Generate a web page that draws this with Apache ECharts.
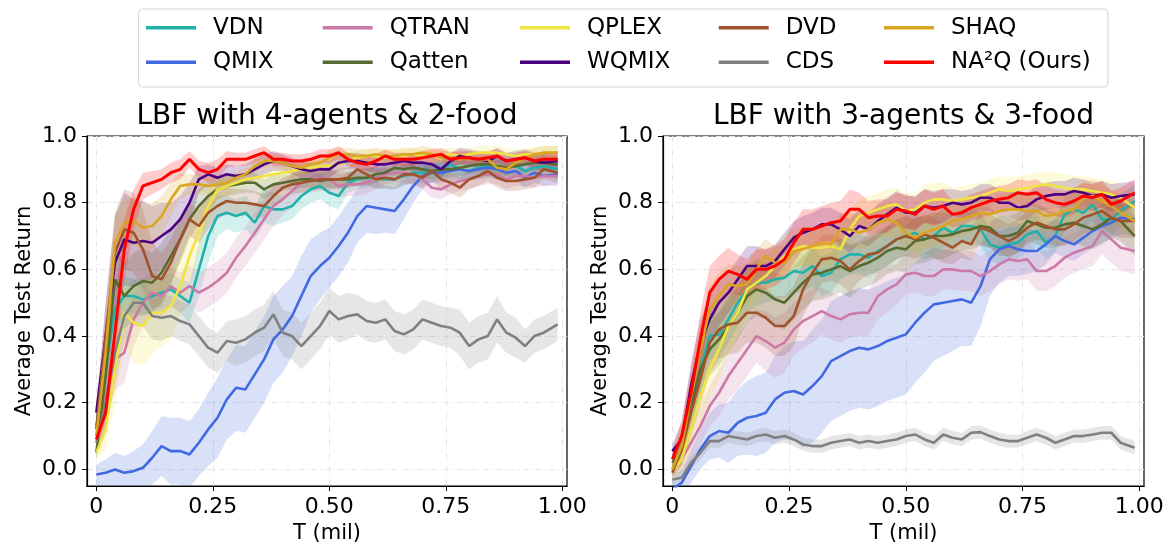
<!DOCTYPE html>
<html>
<head>
<meta charset="utf-8">
<script src="https://cdn.jsdelivr.net/npm/echarts@6/dist/echarts.min.js"></script>
<style>
  html, body { margin: 0; padding: 0; background: #fff; }
  #chart { width: 1169px; height: 549px; }
</style>
</head>
<body>
<div id="chart"></div>
<script>
// Training steps (millions) at which the test return was logged
const T = [0,0.02,0.04,0.06,0.08,0.1,0.12,0.14,0.16,0.18,
           0.2,0.22,0.24,0.26,0.28,0.3,0.32,0.34,0.36,0.38,
           0.4,0.42,0.44,0.46,0.48,0.5,0.52,0.54,0.56,0.58,
           0.6,0.62,0.64,0.66,0.68,0.7,0.72,0.74,0.76,0.78,
           0.8,0.82,0.84,0.86,0.88,0.9,0.92,0.94,0.96,0.99];

const methods = ['VDN','QMIX','QTRAN','Qatten','QPLEX','WQMIX','DVD','CDS','SHAQ','NA²Q (Ours)'];
const panelTitles = ['LBF with 4-agents & 2-food', 'LBF with 3-agents & 3-food'];

const xTicks = [0, 0.25, 0.5, 0.75, 1.0];
const xTickLabels = ['0', '0.25', '0.50', '0.75', '1.00'];
const yTicks = [0, 0.2, 0.4, 0.6, 0.8, 1.0];
const yTickLabels = ['0.0', '0.2', '0.4', '0.6', '0.8', '1.0'];

// ---- LBF 4 agents, 2 food: mean return ----
const vdnL = [0.13,0.30,0.48,0.52,0.52,0.51,0.52,0.53,0.54,0.52,
  0.50,0.60,0.70,0.76,0.77,0.76,0.77,0.74,0.79,0.78,
  0.78,0.79,0.82,0.84,0.85,0.83,0.82,0.86,0.87,0.875,
  0.875,0.87,0.87,0.88,0.89,0.89,0.89,0.90,0.915,0.90,
  0.895,0.905,0.91,0.90,0.905,0.91,0.895,0.905,0.91,0.90];
const qmixL = [-0.015,-0.01,0.0,-0.01,-0.005,0.005,0.035,0.07,0.055,0.055,
  0.045,0.08,0.12,0.155,0.21,0.245,0.24,0.285,0.33,0.39,
  0.42,0.46,0.52,0.58,0.61,0.635,0.67,0.71,0.76,0.79,
  0.785,0.78,0.775,0.81,0.85,0.88,0.89,0.89,0.895,0.90,
  0.895,0.90,0.905,0.90,0.89,0.895,0.875,0.89,0.88,0.885];
const qtranL = [0.10,0.22,0.33,0.35,0.45,0.50,0.53,0.52,0.55,0.53,
  0.55,0.53,0.545,0.565,0.59,0.635,0.67,0.71,0.75,0.79,
  0.81,0.835,0.86,0.87,0.875,0.87,0.85,0.855,0.855,0.86,
  0.875,0.885,0.89,0.89,0.885,0.87,0.845,0.84,0.855,0.865,
  0.87,0.88,0.885,0.885,0.87,0.88,0.88,0.875,0.88,0.88];
const qattenL = [0.05,0.28,0.57,0.52,0.55,0.565,0.56,0.59,0.64,0.69,
  0.75,0.79,0.82,0.84,0.85,0.855,0.86,0.86,0.84,0.855,
  0.86,0.865,0.87,0.87,0.865,0.87,0.87,0.87,0.875,0.875,
  0.885,0.89,0.905,0.90,0.905,0.90,0.895,0.90,0.90,0.905,
  0.91,0.915,0.915,0.91,0.905,0.91,0.915,0.92,0.92,0.915];
const qplexL = [0.05,0.12,0.30,0.47,0.44,0.43,0.47,0.47,0.49,0.55,
  0.64,0.71,0.79,0.84,0.85,0.86,0.87,0.875,0.88,0.885,
  0.89,0.895,0.90,0.905,0.91,0.91,0.915,0.925,0.935,0.94,
  0.94,0.935,0.94,0.94,0.945,0.94,0.94,0.94,0.945,0.94,
  0.945,0.95,0.95,0.95,0.945,0.94,0.945,0.945,0.95,0.95];
const wqmixL = [0.17,0.40,0.62,0.69,0.68,0.685,0.68,0.70,0.72,0.75,
  0.80,0.87,0.885,0.875,0.885,0.88,0.885,0.90,0.915,0.925,
  0.92,0.91,0.90,0.895,0.90,0.90,0.92,0.925,0.925,0.92,
  0.915,0.915,0.92,0.925,0.92,0.92,0.915,0.90,0.925,0.94,
  0.935,0.93,0.925,0.94,0.925,0.93,0.935,0.925,0.92,0.925];
const dvdL = [0.12,0.40,0.65,0.72,0.71,0.66,0.58,0.57,0.62,0.69,
  0.75,0.73,0.77,0.79,0.805,0.80,0.80,0.795,0.79,0.82,
  0.845,0.855,0.86,0.865,0.87,0.87,0.87,0.875,0.90,0.885,
  0.87,0.875,0.87,0.885,0.885,0.875,0.895,0.87,0.86,0.845,
  0.87,0.88,0.895,0.875,0.865,0.865,0.87,0.875,0.90,0.89];
const cdsL = [0.08,0.20,0.35,0.46,0.50,0.50,0.46,0.455,0.46,0.445,
  0.435,0.40,0.365,0.35,0.385,0.38,0.39,0.41,0.425,0.465,
  0.41,0.40,0.37,0.40,0.43,0.475,0.45,0.46,0.465,0.445,
  0.44,0.45,0.415,0.405,0.42,0.45,0.44,0.43,0.425,0.41,
  0.37,0.39,0.40,0.45,0.41,0.395,0.37,0.40,0.41,0.435];
const shaqL = [0.10,0.35,0.68,0.74,0.745,0.725,0.73,0.76,0.81,0.85,
  0.855,0.855,0.85,0.855,0.86,0.875,0.885,0.91,0.925,0.925,
  0.92,0.91,0.905,0.915,0.92,0.935,0.945,0.945,0.94,0.94,
  0.945,0.94,0.94,0.945,0.945,0.95,0.945,0.935,0.935,0.93,
  0.935,0.93,0.93,0.905,0.90,0.92,0.935,0.945,0.95,0.95];
const na2qL = [0.09,0.17,0.41,0.66,0.78,0.85,0.86,0.87,0.89,0.90,
  0.93,0.90,0.89,0.90,0.93,0.93,0.93,0.94,0.95,0.93,
  0.93,0.925,0.925,0.93,0.94,0.94,0.95,0.93,0.92,0.915,
  0.925,0.94,0.93,0.93,0.93,0.935,0.94,0.945,0.93,0.935,
  0.935,0.93,0.935,0.94,0.925,0.93,0.935,0.925,0.93,0.93];

// ---- LBF 4 agents, 2 food: spread (half-width of shaded band) ----
const vdnLsd = [0.04,0.08,0.08,0.06,0.05,0.05,0.05,0.05,0.05,0.05,
  0.06,0.08,0.08,0.06,0.05,0.05,0.05,0.05,0.05,0.05,
  0.04,0.04,0.04,0.04,0.04,0.04,0.04,0.03,0.03,0.03,
  0.03,0.03,0.03,0.03,0.03,0.03,0.03,0.03,0.03,0.03,
  0.03,0.03,0.03,0.03,0.03,0.03,0.03,0.03,0.03,0.03];
const qmixLsd = [0.03,0.04,0.05,0.05,0.06,0.07,0.08,0.09,0.10,0.10,
  0.10,0.10,0.11,0.12,0.12,0.13,0.13,0.13,0.13,0.13,
  0.13,0.12,0.12,0.11,0.10,0.09,0.09,0.09,0.08,0.08,
  0.08,0.07,0.07,0.06,0.05,0.04,0.03,0.03,0.03,0.03,
  0.03,0.03,0.03,0.03,0.03,0.03,0.03,0.03,0.03,0.03];
const qtranLsd = [0.03,0.08,0.09,0.09,0.08,0.07,0.06,0.06,0.06,0.06,
  0.06,0.06,0.06,0.06,0.06,0.06,0.06,0.06,0.06,0.06,
  0.05,0.05,0.04,0.04,0.04,0.035,0.035,0.035,0.035,0.035,
  0.035,0.03,0.03,0.03,0.03,0.03,0.03,0.03,0.03,0.03,
  0.03,0.03,0.03,0.03,0.03,0.03,0.03,0.03,0.03,0.03];
const qattenLsd = [0.02,0.08,0.10,0.10,0.10,0.10,0.09,0.09,0.08,0.07,
  0.06,0.05,0.04,0.03,0.03,0.03,0.03,0.03,0.03,0.03,
  0.025,0.025,0.025,0.025,0.025,0.025,0.025,0.025,0.025,0.025,
  0.025,0.025,0.025,0.025,0.025,0.025,0.025,0.025,0.025,0.025,
  0.025,0.025,0.025,0.025,0.025,0.025,0.025,0.025,0.025,0.025];
const qplexLsd = [0.02,0.06,0.10,0.10,0.12,0.12,0.12,0.10,0.10,0.09,
  0.08,0.07,0.05,0.03,0.03,0.02,0.02,0.02,0.02,0.02,
  0.02,0.02,0.02,0.02,0.02,0.02,0.02,0.02,0.02,0.02,
  0.02,0.02,0.02,0.02,0.02,0.02,0.02,0.02,0.02,0.02,
  0.02,0.02,0.02,0.02,0.02,0.02,0.02,0.02,0.02,0.02];
const wqmixLsd = [0.03,0.10,0.14,0.14,0.13,0.12,0.11,0.10,0.08,0.07,
  0.06,0.04,0.03,0.03,0.03,0.03,0.03,0.03,0.03,0.03,
  0.025,0.025,0.025,0.025,0.025,0.025,0.025,0.025,0.025,0.025,
  0.025,0.025,0.025,0.025,0.025,0.025,0.025,0.025,0.025,0.025,
  0.025,0.025,0.025,0.025,0.025,0.025,0.025,0.025,0.025,0.025];
const dvdLsd = [0.03,0.10,0.12,0.12,0.12,0.12,0.10,0.08,0.07,0.06,
  0.05,0.05,0.05,0.04,0.04,0.04,0.04,0.04,0.035,0.035,
  0.03,0.03,0.03,0.03,0.03,0.03,0.03,0.03,0.03,0.03,
  0.03,0.03,0.03,0.03,0.03,0.03,0.03,0.03,0.03,0.03,
  0.03,0.03,0.03,0.03,0.03,0.03,0.03,0.03,0.03,0.03];
const cdsLsd = [0.03,0.08,0.10,0.08,0.07,0.07,0.07,0.07,0.06,0.06,
  0.06,0.06,0.06,0.06,0.06,0.07,0.07,0.07,0.07,0.07,
  0.07,0.07,0.07,0.07,0.07,0.07,0.07,0.07,0.06,0.06,
  0.06,0.06,0.06,0.06,0.06,0.06,0.06,0.06,0.06,0.07,
  0.07,0.07,0.07,0.07,0.06,0.06,0.05,0.05,0.05,0.05];
const shaqLsd = [0.03,0.10,0.08,0.07,0.07,0.07,0.07,0.06,0.05,0.04,
  0.03,0.03,0.025,0.02,0.02,0.02,0.02,0.02,0.02,0.02,
  0.02,0.02,0.02,0.02,0.02,0.02,0.02,0.02,0.02,0.02,
  0.02,0.02,0.02,0.02,0.02,0.02,0.02,0.02,0.02,0.02,
  0.02,0.02,0.02,0.02,0.02,0.02,0.02,0.02,0.02,0.02];
const na2qLsd = [0.02,0.05,0.10,0.09,0.06,0.04,0.035,0.03,0.03,0.03,
  0.025,0.025,0.03,0.03,0.025,0.02,0.02,0.02,0.02,0.02,
  0.02,0.02,0.02,0.02,0.02,0.02,0.02,0.02,0.02,0.02,
  0.02,0.02,0.02,0.02,0.02,0.02,0.02,0.02,0.02,0.02,
  0.02,0.02,0.02,0.02,0.02,0.02,0.02,0.02,0.02,0.02];

// ---- LBF 3 agents, 3 food: mean return ----
const vdnR = [0.00,0.07,0.18,0.30,0.40,0.405,0.45,0.50,0.54,0.56,
  0.56,0.57,0.575,0.595,0.59,0.61,0.58,0.59,0.63,0.645,
  0.645,0.635,0.655,0.67,0.69,0.70,0.71,0.69,0.70,0.725,
  0.71,0.73,0.73,0.72,0.675,0.665,0.675,0.68,0.705,0.715,
  0.68,0.70,0.765,0.78,0.77,0.795,0.75,0.75,0.775,0.805];
const qmixR = [-0.06,-0.04,0.01,0.06,0.10,0.115,0.11,0.14,0.155,0.16,
  0.17,0.21,0.23,0.235,0.225,0.25,0.28,0.325,0.34,0.355,
  0.365,0.36,0.37,0.385,0.395,0.405,0.44,0.47,0.495,0.50,
  0.505,0.51,0.50,0.55,0.63,0.66,0.67,0.66,0.655,0.655,
  0.675,0.70,0.685,0.675,0.695,0.715,0.73,0.74,0.755,0.75];
const qtranR = [0.00,0.03,0.08,0.13,0.19,0.23,0.28,0.32,0.36,0.40,
  0.385,0.365,0.38,0.42,0.445,0.46,0.475,0.46,0.45,0.465,
  0.47,0.47,0.52,0.54,0.555,0.585,0.59,0.58,0.58,0.60,
  0.60,0.595,0.595,0.58,0.595,0.615,0.63,0.625,0.63,0.595,
  0.595,0.61,0.635,0.65,0.66,0.67,0.715,0.69,0.665,0.655];
const qattenR = [0.02,0.06,0.19,0.30,0.36,0.39,0.43,0.47,0.52,0.54,
  0.53,0.51,0.50,0.53,0.56,0.585,0.59,0.60,0.61,0.595,
  0.61,0.62,0.635,0.655,0.665,0.66,0.685,0.69,0.70,0.70,
  0.705,0.715,0.72,0.73,0.725,0.70,0.70,0.71,0.745,0.735,
  0.725,0.725,0.735,0.74,0.73,0.72,0.735,0.755,0.745,0.70];
const qplexR = [-0.005,0.03,0.12,0.22,0.30,0.36,0.43,0.47,0.54,0.56,
  0.58,0.61,0.64,0.66,0.67,0.665,0.665,0.67,0.66,0.72,
  0.76,0.77,0.78,0.79,0.795,0.775,0.78,0.80,0.81,0.81,
  0.805,0.81,0.815,0.82,0.83,0.84,0.835,0.84,0.845,0.85,
  0.855,0.85,0.845,0.84,0.84,0.835,0.83,0.825,0.815,0.785];
const wqmixR = [0.055,0.09,0.25,0.38,0.45,0.50,0.53,0.57,0.61,0.61,
  0.61,0.625,0.66,0.695,0.71,0.72,0.735,0.735,0.72,0.70,
  0.73,0.72,0.745,0.765,0.785,0.77,0.77,0.79,0.785,0.79,
  0.80,0.795,0.80,0.815,0.815,0.80,0.80,0.785,0.79,0.81,
  0.82,0.825,0.825,0.835,0.83,0.82,0.825,0.815,0.82,0.825];
const dvdR = [-0.01,0.06,0.17,0.27,0.38,0.42,0.435,0.44,0.47,0.47,
  0.455,0.43,0.43,0.46,0.54,0.59,0.63,0.635,0.625,0.60,
  0.625,0.645,0.65,0.67,0.69,0.70,0.69,0.705,0.695,0.68,
  0.665,0.685,0.675,0.725,0.715,0.70,0.685,0.70,0.725,0.74,
  0.73,0.72,0.72,0.735,0.755,0.765,0.775,0.755,0.745,0.745];
const cdsR = [-0.03,-0.025,0.02,0.05,0.085,0.085,0.10,0.095,0.09,0.10,
  0.105,0.095,0.10,0.09,0.075,0.07,0.07,0.08,0.085,0.09,
  0.08,0.085,0.08,0.085,0.09,0.10,0.105,0.09,0.08,0.105,
  0.095,0.09,0.11,0.112,0.10,0.09,0.085,0.085,0.095,0.105,
  0.095,0.08,0.09,0.10,0.10,0.105,0.11,0.11,0.08,0.065];
const shaqR = [0.00,0.07,0.22,0.36,0.48,0.52,0.555,0.55,0.555,0.60,
  0.64,0.62,0.62,0.655,0.66,0.67,0.68,0.675,0.72,0.72,
  0.71,0.72,0.74,0.75,0.74,0.71,0.695,0.71,0.72,0.73,
  0.745,0.75,0.76,0.77,0.765,0.775,0.78,0.78,0.775,0.775,
  0.76,0.765,0.775,0.78,0.815,0.82,0.805,0.79,0.77,0.745];
const na2qR = [0.03,0.10,0.23,0.39,0.53,0.57,0.595,0.585,0.57,0.60,
  0.60,0.61,0.63,0.68,0.72,0.72,0.73,0.74,0.745,0.78,
  0.78,0.755,0.76,0.76,0.78,0.775,0.765,0.79,0.78,0.79,
  0.765,0.77,0.785,0.795,0.805,0.81,0.815,0.83,0.825,0.83,
  0.81,0.80,0.795,0.805,0.82,0.815,0.825,0.795,0.805,0.83];

// ---- LBF 3 agents, 3 food: spread (half-width of shaded band) ----
const vdnRsd = [0.02,0.04,0.06,0.07,0.07,0.07,0.07,0.07,0.07,0.07,
  0.06,0.06,0.06,0.06,0.06,0.06,0.06,0.06,0.06,0.06,
  0.06,0.06,0.06,0.06,0.06,0.06,0.06,0.06,0.06,0.06,
  0.05,0.05,0.05,0.05,0.05,0.05,0.05,0.05,0.05,0.05,
  0.05,0.05,0.05,0.05,0.05,0.05,0.05,0.05,0.05,0.05];
const qmixRsd = [0.03,0.04,0.05,0.06,0.07,0.08,0.09,0.10,0.11,0.12,
  0.12,0.13,0.14,0.15,0.16,0.17,0.17,0.18,0.18,0.18,
  0.18,0.18,0.18,0.18,0.18,0.18,0.18,0.18,0.17,0.16,
  0.15,0.14,0.13,0.12,0.11,0.10,0.09,0.08,0.07,0.06,
  0.06,0.05,0.05,0.05,0.05,0.05,0.05,0.05,0.05,0.05];
const qtranRsd = [0.02,0.04,0.05,0.06,0.06,0.07,0.07,0.08,0.08,0.08,
  0.09,0.09,0.09,0.08,0.08,0.08,0.07,0.07,0.07,0.07,
  0.07,0.07,0.07,0.07,0.06,0.06,0.06,0.06,0.06,0.06,
  0.06,0.06,0.06,0.06,0.06,0.06,0.06,0.06,0.06,0.06,
  0.06,0.06,0.06,0.06,0.06,0.06,0.07,0.07,0.07,0.07];
const qattenRsd = [0.02,0.05,0.07,0.08,0.08,0.08,0.08,0.08,0.08,0.08,
  0.08,0.08,0.08,0.08,0.08,0.08,0.08,0.08,0.08,0.08,
  0.07,0.07,0.07,0.07,0.07,0.07,0.07,0.07,0.07,0.07,
  0.06,0.06,0.06,0.06,0.06,0.06,0.06,0.06,0.06,0.06,
  0.06,0.06,0.06,0.06,0.06,0.06,0.06,0.06,0.06,0.06];
const qplexRsd = [0.02,0.04,0.07,0.08,0.09,0.09,0.08,0.08,0.07,0.07,
  0.06,0.06,0.06,0.06,0.06,0.06,0.06,0.06,0.06,0.06,
  0.05,0.05,0.05,0.05,0.05,0.05,0.05,0.05,0.05,0.05,
  0.04,0.04,0.04,0.04,0.04,0.04,0.04,0.04,0.04,0.04,
  0.04,0.04,0.04,0.04,0.04,0.04,0.04,0.04,0.04,0.04];
const wqmixRsd = [0.02,0.05,0.07,0.07,0.07,0.07,0.06,0.06,0.06,0.06,
  0.05,0.05,0.05,0.05,0.05,0.05,0.05,0.05,0.05,0.05,
  0.05,0.05,0.05,0.05,0.05,0.05,0.05,0.05,0.05,0.05,
  0.04,0.04,0.04,0.04,0.04,0.04,0.04,0.04,0.04,0.04,
  0.04,0.04,0.04,0.04,0.04,0.04,0.04,0.04,0.04,0.04];
const dvdRsd = [0.02,0.05,0.07,0.08,0.09,0.09,0.09,0.09,0.09,0.09,
  0.09,0.09,0.09,0.09,0.08,0.08,0.07,0.07,0.07,0.07,
  0.06,0.06,0.06,0.06,0.06,0.06,0.06,0.06,0.06,0.06,
  0.05,0.05,0.05,0.05,0.05,0.05,0.05,0.05,0.05,0.05,
  0.05,0.05,0.05,0.05,0.05,0.05,0.05,0.05,0.05,0.05];
const cdsRsd = [0.02,0.02,0.02,0.02,0.02,0.02,0.02,0.02,0.02,0.02,
  0.02,0.02,0.02,0.02,0.02,0.02,0.02,0.02,0.02,0.02,
  0.02,0.02,0.02,0.02,0.02,0.02,0.02,0.02,0.02,0.02,
  0.02,0.02,0.02,0.02,0.02,0.02,0.02,0.02,0.02,0.02,
  0.02,0.02,0.02,0.02,0.02,0.02,0.02,0.02,0.02,0.02];
const shaqRsd = [0.02,0.05,0.07,0.07,0.07,0.07,0.06,0.06,0.06,0.06,
  0.05,0.05,0.05,0.05,0.05,0.05,0.05,0.05,0.05,0.05,
  0.05,0.05,0.05,0.05,0.05,0.05,0.05,0.05,0.05,0.05,
  0.05,0.05,0.05,0.05,0.05,0.05,0.05,0.05,0.05,0.05,
  0.05,0.05,0.05,0.05,0.05,0.05,0.05,0.05,0.05,0.05];
const na2qRsd = [0.03,0.05,0.07,0.08,0.08,0.07,0.07,0.06,0.06,0.06,
  0.06,0.06,0.06,0.06,0.06,0.06,0.06,0.06,0.06,0.06,
  0.05,0.05,0.05,0.05,0.05,0.05,0.05,0.05,0.05,0.05,
  0.04,0.04,0.04,0.04,0.04,0.04,0.04,0.04,0.04,0.04,
  0.04,0.04,0.04,0.04,0.04,0.04,0.04,0.04,0.04,0.04];

const panels = [
  { means: [vdnL, qmixL, qtranL, qattenL, qplexL, wqmixL, dvdL, cdsL, shaqL, na2qL],
    spreads: [vdnLsd, qmixLsd, qtranLsd, qattenLsd, qplexLsd, wqmixLsd, dvdLsd, cdsLsd, shaqLsd, na2qLsd] },
  { means: [vdnR, qmixR, qtranR, qattenR, qplexR, wqmixR, dvdR, cdsR, shaqR, na2qR],
    spreads: [vdnRsd, qmixRsd, qtranRsd, qattenRsd, qplexRsd, wqmixRsd, dvdRsd, cdsRsd, shaqRsd, na2qRsd] }
];

// ---- styling ----
const colors = ['#20B2AA','#4169E1','#CC79A7','#556B2F','#F0E442','#4B0082','#A0522D','#808080','#DAA520','#FF0000'];
const FONT = 'DejaVu Sans';
const gridBoxes = [
  { left: 87, top: 136, width: 480, height: 351 },
  { left: 663, top: 136, width: 481, height: 351 }
];
const titleCenters = [327, 903.5];
const legendColumnX = [146, 322.7, 520, 718.7, 884];
const legendRowTop = [13.7, 48.3];

function tickText(ticks, labels) {
  return function (v) {
    const i = ticks.findIndex(t => Math.abs(t - v) < 1e-9);
    return i < 0 ? '' : labels[i];
  };
}

const dashDot = [6, 3, 1.2, 3];

function makeXAxis(gi) {
  return {
    type: 'value', gridIndex: gi, min: -0.02, max: 1.01,
    name: 'T (mil)', nameLocation: 'middle', nameGap: 36,
    nameTextStyle: { fontSize: 21, fontFamily: FONT, color: '#000' },
    axisLine: { show: true, onZero: false, lineStyle: { color: '#000', width: 1.2 } },
    axisTick: { show: true, length: 5, customValues: xTicks, lineStyle: { color: '#000', width: 1 } },
    axisLabel: { customValues: xTicks, formatter: tickText(xTicks, xTickLabels),
                 fontSize: 22, fontFamily: FONT, color: '#000', margin: 10 },
    splitLine: { show: true, lineStyle: { color: '#e4e4e4', width: 1, type: dashDot } }
  };
}
function makeYAxis(gi) {
  return {
    type: 'value', gridIndex: gi, min: -0.05, max: 1.0,
    name: 'Average Test Return', nameLocation: 'middle', nameGap: 52,
    nameTextStyle: { fontSize: 21, fontFamily: FONT, color: '#000' },
    axisLine: { show: true, onZero: false, lineStyle: { color: '#000', width: 1.2 } },
    axisTick: { show: true, length: 5, customValues: yTicks, lineStyle: { color: '#000', width: 1 } },
    axisLabel: { customValues: yTicks, formatter: tickText(yTicks, yTickLabels),
                 fontSize: 22, fontFamily: FONT, color: '#000', margin: 10 },
    splitLine: { show: true, lineStyle: { color: '#e4e4e4', width: 1, type: dashDot } }
  };
}

// shaded band: one polygon per method, mean ± spread, mapped through the axes
function bandSeries(gi, mean, sd, color) {
  return {
    type: 'custom', xAxisIndex: gi, yAxisIndex: gi, silent: true, z: 1,
    encode: { x: 0, y: [1, 2] },
    data: T.map((t, i) => [t, mean[i] - sd[i], mean[i] + sd[i]]),
    renderItem: function (params, api) {
      if (params.dataIndex !== 0) return null;
      const upper = [], lower = [];
      for (let i = 0; i < T.length; i++) {
        upper.push(api.coord([T[i], mean[i] + sd[i]]));
        lower.push(api.coord([T[i], mean[i] - sd[i]]));
      }
      const cs = params.coordSys;
      return {
        type: 'polygon',
        shape: { points: upper.concat(lower.reverse()) },
        style: { fill: color, opacity: 0.2 },
        clipPath: { type: 'rect', shape: { x: cs.x, y: cs.y, width: cs.width, height: cs.height } }
      };
    }
  };
}

function lineSeries(gi, mean, name, color, k) {
  return {
    type: 'line', name: name, xAxisIndex: gi, yAxisIndex: gi, z: 3 + k * 0.01,
    data: T.map((t, i) => [t, mean[i]]),
    showSymbol: false, symbol: 'none', silent: true,
    lineStyle: { color: color, width: k === 9 ? 3 : 2.6 },
    itemStyle: { color: color }
  };
}

const series = [];
panels.forEach((p, gi) => {
  p.means.forEach((m, k) => series.push(bandSeries(gi, m, p.spreads[k], colors[k])));
});
panels.forEach((p, gi) => {
  p.means.forEach((m, k) => series.push(lineSeries(gi, m, methods[k], colors[k], k)));
});

const legends = methods.map((name, k) => ({
  data: [name], selectedMode: false, orient: 'horizontal',
  left: legendColumnX[Math.floor(k / 2)], top: legendRowTop[k % 2],
  padding: 0, itemGap: 0, icon: 'rect', itemWidth: 50, itemHeight: 3.5,
  textStyle: { fontSize: 23, fontFamily: FONT, color: '#000', lineHeight: 28, padding: [0, 0, 0, 12] }
}));

const option = {
  animation: false,
  backgroundColor: '#fff',
  title: panelTitles.map((txt, gi) => ({
    text: txt, left: titleCenters[gi], top: 103, textAlign: 'center', padding: 0,
    textStyle: { fontSize: 28, fontWeight: 'normal', fontFamily: FONT, color: '#000' }
  })),
  legend: legends,
  graphic: [{
    type: 'rect', z: -1, silent: true,
    shape: { x: 138.5, y: 9, width: 969.5, height: 78, r: 4 },
    style: { fill: '#fff', stroke: '#d4d4d4', lineWidth: 1 }
  }],
  grid: gridBoxes.map(b => Object.assign({ show: true, borderColor: '#000', borderWidth: 1.2,
                                           backgroundColor: 'rgba(0,0,0,0)' }, b)),
  xAxis: [makeXAxis(0), makeXAxis(1)],
  yAxis: [makeYAxis(0), makeYAxis(1)],
  series: series
};

const chart = echarts.init(document.getElementById('chart'), null, { renderer: 'canvas' });
chart.setOption(option);
</script>
</body>
</html>
